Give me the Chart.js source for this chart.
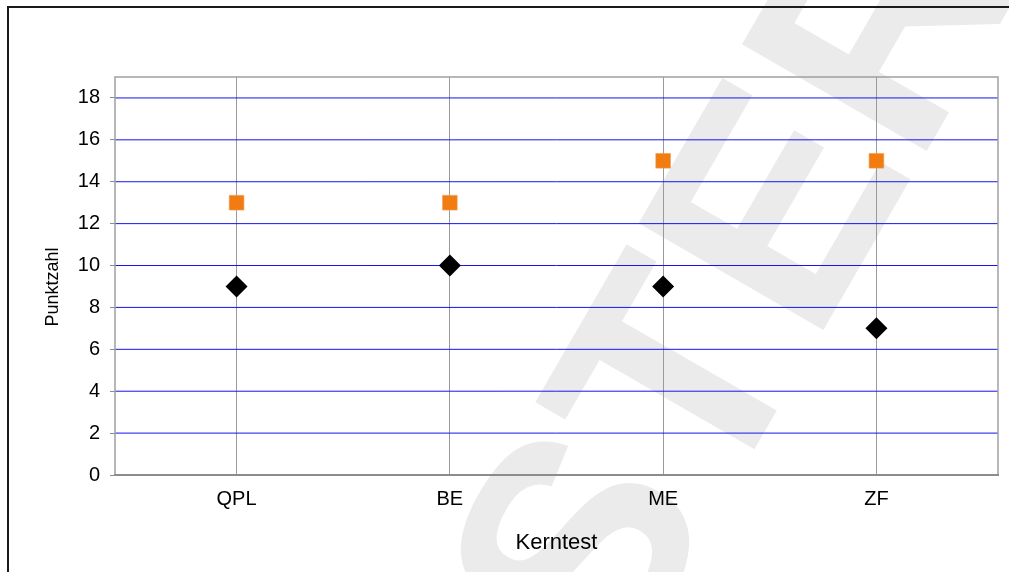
<!DOCTYPE html>
<html>
<head>
<meta charset="utf-8">
<script src="https://cdn.jsdelivr.net/npm/chart.js@4"></script>
<style>
  html, body { margin: 0; padding: 0; background: #fff; }
  #wrap { position: relative; width: 1009px; height: 572px; overflow: hidden; }
  #frame { position: absolute; left: 7px; top: 6px; width: 1100px; height: 700px;
           border-top: 2px solid #1a1a1a; border-left: 2px solid #1a1a1a; pointer-events: none; }
  canvas { position: absolute; left: 0; top: 0; }
</style>
</head>
<body>
<div id="wrap">
  <canvas id="c" width="1009" height="572"></canvas>
  <div id="frame"></div>
</div>
<script>
// Kerntest categories and scores
const categories = ['QPL', 'BE', 'ME', 'ZF'];
const upperScores = [13, 13, 15, 15];
const lowerScores = [9, 10, 9, 7];
const yTicks = [0, 2, 4, 6, 8, 10, 12, 14, 16, 18];
const yMax = 19;
const yTitle = 'Punktzahl';

const FONT = 'Liberation Sans, Arial, sans-serif';
const GRID_BLUE = 'rgb(20, 20, 245)';

const toPoints = arr => arr.map((v, i) => ({ x: i, y: v }));

// Large faint stamp text behind the plot
const stampPlugin = {
  id: 'stamp',
  beforeDraw(chart) {
    const ctx = chart.ctx;
    ctx.save();
    ctx.fillStyle = '#ffffff';
    ctx.fillRect(0, 0, chart.width, chart.height);
    ctx.translate(627, 499);
    ctx.rotate(-60 * Math.PI / 180);
    ctx.font = 'bold 310px ' + FONT;
    ctx.fillStyle = '#ebebeb';
    ctx.textAlign = 'center';
    ctx.textBaseline = 'middle';
    ctx.fillText('MUSTER', 0, 0);
    ctx.restore();
  }
};

// Blue value lines, grey plot outline and the vertical axis title
const plotFramePlugin = {
  id: 'plotFrame',
  beforeDatasetsDraw(chart) {
    const a = chart.chartArea;
    const ys = chart.scales.y;
    const ctx = chart.ctx;
    ctx.save();
    ctx.lineWidth = 1;
    ctx.strokeStyle = GRID_BLUE;
    yTicks.forEach(v => {
      if (v === 0) return;
      const py = ys.getPixelForValue(v);
      ctx.beginPath();
      ctx.moveTo(a.left, py);
      ctx.lineTo(a.right, py);
      ctx.stroke();
    });
    ctx.strokeStyle = '#a0a0a0';
    ctx.lineWidth = 1.5;
    ctx.strokeRect(a.left, a.top, a.right - a.left, a.bottom - a.top);
    ctx.strokeStyle = '#8c8c8c';
    ctx.lineWidth = 2;
    ctx.beginPath();
    ctx.moveTo(a.left - 1, a.bottom);
    ctx.lineTo(a.right + 1, a.bottom);
    ctx.stroke();

    ctx.translate(53, 287);
    ctx.rotate(-Math.PI / 2);
    ctx.font = '18px ' + FONT;
    ctx.fillStyle = '#000';
    ctx.textAlign = 'center';
    ctx.textBaseline = 'middle';
    ctx.fillText(yTitle, 0, 0);
    ctx.restore();
  }
};

const yAllTicks = yTicks.concat([yMax]);

new Chart(document.getElementById('c'), {
  type: 'scatter',
  data: {
    datasets: [
      {
        label: 'oben',
        data: toPoints(upperScores),
        pointStyle: 'rect',
        pointRadius: 10.4,
        pointHoverRadius: 10.4,
        backgroundColor: '#f07c12',
        borderColor: '#f3a055',
        borderWidth: 0.6
      },
      {
        label: 'unten',
        data: toPoints(lowerScores),
        pointStyle: 'rectRot',
        pointRadius: 11,
        pointHoverRadius: 11,
        backgroundColor: '#000000',
        borderColor: '#000000',
        borderWidth: 0
      }
    ]
  },
  options: {
    responsive: false,
    animation: false,
    events: [],
    layout: { padding: { left: 0, right: 11, top: 77, bottom: 0 } },
    plugins: { legend: { display: false }, tooltip: { enabled: false } },
    scales: {
      x: {
        type: 'linear',
        min: -0.57,
        max: 3.57,
        afterBuildTicks(scale) {
          scale.ticks = categories.map((_, i) => ({ value: i }));
        },
        afterFit(scale) { scale.height = 97; },
        border: { display: false },
        grid: { color: '#9a9a9a', lineWidth: 1, drawTicks: false },
        ticks: {
          padding: 12,
          color: '#000',
          font: { family: FONT, size: 20 },
          callback: v => categories[v] ?? ''
        },
        title: {
          display: true,
          text: 'Kerntest',
          color: '#000',
          font: { family: FONT, size: 22 },
          padding: { top: 0, bottom: 16 }
        }
      },
      y: {
        min: 0,
        max: yMax,
        afterBuildTicks(scale) {
          scale.ticks = yAllTicks.map(v => ({ value: v }));
        },
        afterFit(scale) { scale.width = 115; },
        border: { display: false },
        grid: {
          drawOnChartArea: false,
          drawTicks: true,
          tickLength: 5,
          tickColor: yAllTicks.map(v => (v === yMax) ? 'rgba(0,0,0,0)' : '#8c8c8c')
        },
        ticks: {
          padding: 10,
          color: '#000',
          font: { family: FONT, size: 20 },
          callback: v => (yTicks.includes(v) ? String(v) : '')
        },
        title: { display: false }
      }
    }
  },
  plugins: [stampPlugin, plotFramePlugin]
});
</script>
</body>
</html>
